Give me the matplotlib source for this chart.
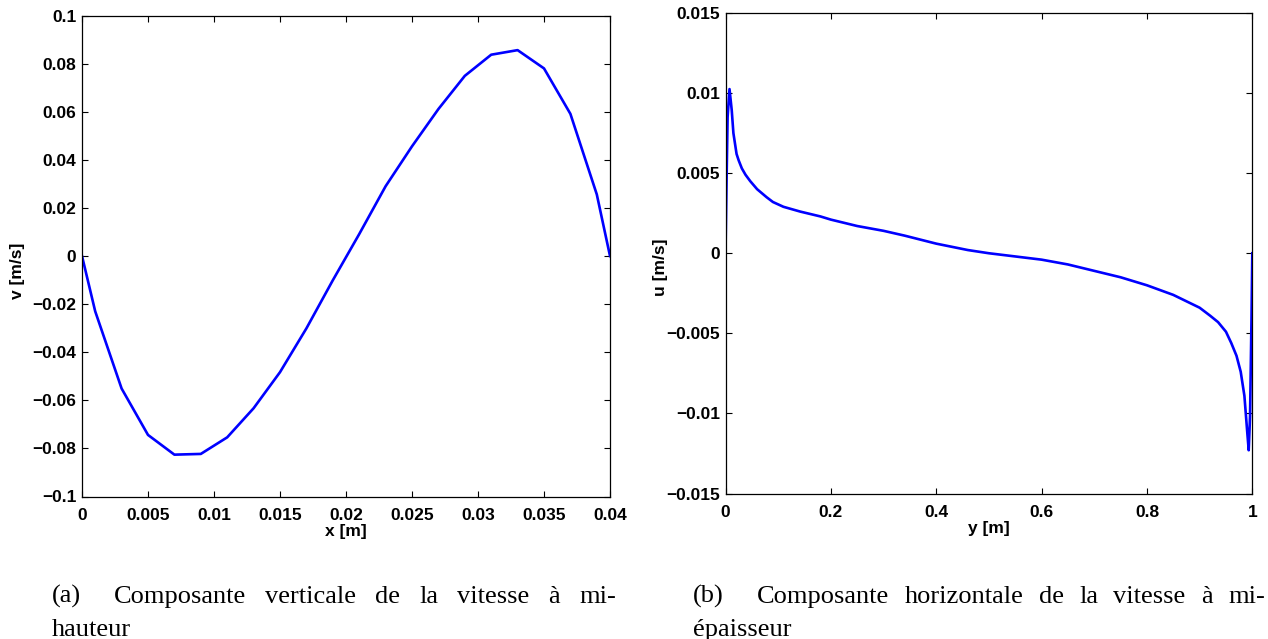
import matplotlib
matplotlib.use("Agg")
import matplotlib.pyplot as plt

# ── Data ─────────────────────────────────────────────────────
# (a) vertical velocity at mid-height
x_pos = [0.0, 0.001, 0.003, 0.005, 0.007, 0.009, 0.011, 0.013, 0.015, 0.017,
         0.019, 0.021, 0.023, 0.025, 0.027, 0.029, 0.031, 0.033, 0.035, 0.037,
         0.039, 0.040]
v_vel = [0.0, -0.0230, -0.0551, -0.0744, -0.0826, -0.0823, -0.0754, -0.0633,
         -0.0483, -0.0301, -0.0101, 0.0091, 0.0290, 0.0456, 0.0611, 0.0749,
         0.0837, 0.0856, 0.0780, 0.0591, 0.0256, 0.0]

# (b) horizontal velocity at mid-thickness
y_pos = [0.0, 0.002, 0.004, 0.0076, 0.0118, 0.015, 0.021, 0.025, 0.031, 0.038,
         0.047, 0.060, 0.078, 0.090, 0.110, 0.142, 0.180, 0.200, 0.250, 0.300,
         0.340, 0.400, 0.460, 0.500, 0.550, 0.600, 0.650, 0.700, 0.750, 0.800,
         0.850, 0.900, 0.920, 0.935, 0.950, 0.960, 0.970, 0.978, 0.985, 0.9906,
         0.9932, 0.9957, 0.9985, 1.0]
u_vel = [0.0, 0.0045, 0.0085, 0.01025, 0.00894, 0.0075, 0.0062, 0.0058, 0.0053,
         0.0049, 0.0045, 0.0040, 0.0035, 0.0032, 0.0029, 0.0026, 0.0023, 0.0021,
         0.0017, 0.0014, 0.0011, 0.0006, 0.0002, 0.0, -0.0002, -0.0004, -0.0007,
         -0.0011, -0.0015, -0.0020, -0.0026, -0.0034, -0.0039, -0.0043, -0.0049,
         -0.0056, -0.0064, -0.0074, -0.0089, -0.01125, -0.0123, -0.0102, -0.0040,
         0.0]

xa_ticks = [0, 0.005, 0.01, 0.015, 0.02, 0.025, 0.03, 0.035, 0.04]
xa_labels = ["0", "0.005", "0.01", "0.015", "0.02", "0.025", "0.03", "0.035", "0.04"]
ya_ticks = [-0.1, -0.08, -0.06, -0.04, -0.02, 0, 0.02, 0.04, 0.06, 0.08, 0.1]
ya_labels = ["\u22120.1", "\u22120.08", "\u22120.06", "\u22120.04", "\u22120.02", "0",
             "0.02", "0.04", "0.06", "0.08", "0.1"]
xb_ticks = [0, 0.2, 0.4, 0.6, 0.8, 1]
xb_labels = ["0", "0.2", "0.4", "0.6", "0.8", "1"]
yb_ticks = [-0.015, -0.01, -0.005, 0, 0.005, 0.01, 0.015]
yb_labels = ["\u22120.015", "\u22120.01", "\u22120.005", "0", "0.005", "0.01", "0.015"]

cap_a = ["(a)", "Composante", "verticale", "de", "la", "vitesse", "\u00e0", "mi-"]
cap_a2 = "hauteur"
cap_b = ["(b)", "Composante", "horizontale", "de", "la", "vitesse", "\u00e0", "mi-"]
cap_b2 = "\u00e9paisseur"

# ── Figure ───────────────────────────────────────────────────
W, H = 1268, 639
fig = plt.figure(figsize=(W / 100, H / 100), dpi=100)

tick_font = dict(family="Liberation Sans", weight="bold", size=12.5)
cap_font = dict(family="Liberation Serif", size=19)


def style_axes(ax, xt, xl, yt, yl, xlab, ylab):
    ax.set_xticks(xt)
    ax.set_xticklabels(xl, fontdict=tick_font)
    ax.set_yticks(yt)
    ax.set_yticklabels(yl, fontdict=tick_font)
    ax.tick_params(direction="in", length=4, width=0.8, top=True, right=True)
    ax.tick_params(axis="x", pad=8)
    ax.tick_params(axis="y", pad=4)
    for s in ax.spines.values():
        s.set_linewidth(0.9)
    ax.set_xlabel(xlab, fontdict=tick_font, labelpad=1)
    ax.set_ylabel(ylab, fontdict=tick_font)


ax1 = fig.add_axes([82 / W, 1 - 496.5 / H, 528 / W, 481 / H])
ax1.plot(x_pos, v_vel, color="#0000ff", linewidth=1.9)
ax1.set_xlim(0, 0.04)
ax1.set_ylim(-0.1, 0.1)
style_axes(ax1, xa_ticks, xa_labels, ya_ticks, ya_labels, "x [m]", "v [m/s]")
ax1.yaxis.set_label_coords(-(82 - 25) / 528, 0.47)

ax2 = fig.add_axes([725.5 / W, 1 - 493.5 / H, 526.8 / W, 480.5 / H])
ax2.plot(y_pos, u_vel, color="#0000ff", linewidth=1.9)
ax2.set_xlim(0, 1)
ax2.set_ylim(-0.015, 0.015)
style_axes(ax2, xb_ticks, xb_labels, yb_ticks, yb_labels, "y [m]", "u [m/s]")
ax2.yaxis.set_label_coords(-(725.5 - 668) / 526.8, 0.47)

# ── Captions (justified like the LaTeX subcaptions) ─────────
renderer = fig.canvas.get_renderer()


def justified(words, x0, x1, y_base, quad):
    texts = [fig.text(0, 1 - y_base / H, w, ha="left", va="baseline", **cap_font)
             for w in words]
    widths = [t.get_window_extent(renderer).width for t in texts]
    gap = (x1 - x0 - sum(widths) - quad) / (len(words) - 2)
    x = x0
    for i, (t, w) in enumerate(zip(texts, widths)):
        t.set_x(x / W)
        x += w + (quad if i == 0 else gap)


justified(cap_a, 51.5, 616, 603, 33)
justified(cap_b, 693, 1265, 603, 33)
fig.text(51.5 / W, 1 - 636 / H, cap_a2, ha="left", va="baseline", **cap_font)
fig.text(693 / W, 1 - 636 / H, cap_b2, ha="left", va="baseline", **cap_font)

plt.savefig("out.png", dpi=100)
plt.close()
